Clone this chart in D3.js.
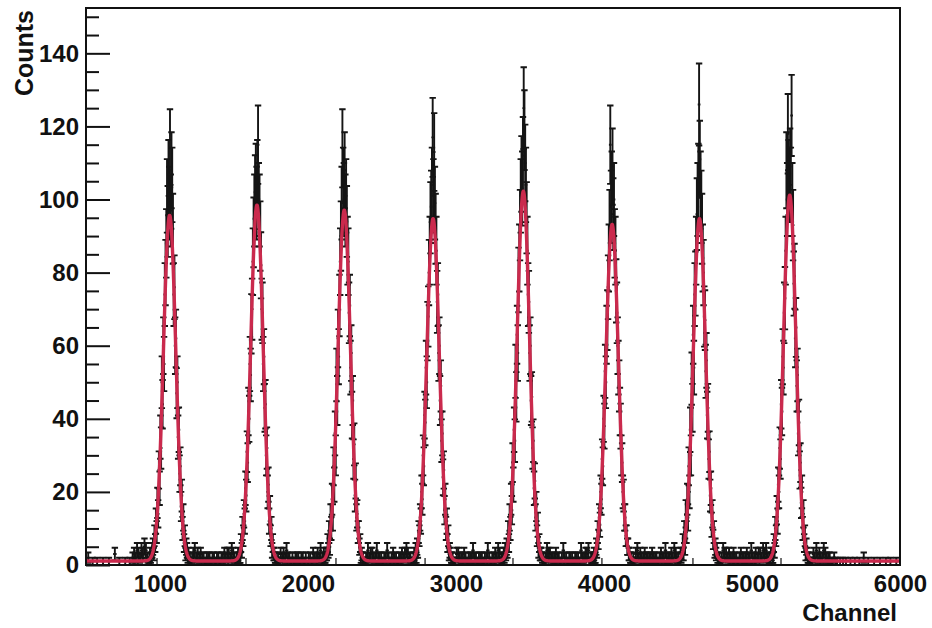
<!DOCTYPE html>
<html>
<head>
<meta charset="utf-8">
<script src="https://cdn.jsdelivr.net/npm/d3@7"></script>
<style>
  body { margin: 0; background: #fff; }
  text { font-family: "Liberation Sans", Arial, Helvetica, sans-serif; font-weight: bold; fill: #111; }
</style>
</head>
<body>
<div id="chart"></div>
<script>
// background regions between the peaks: 10-channel bins
var gapBinWidth = 10;
var gapStarts = [500, 1220, 1810, 2400, 3000, 3610, 4210, 4800, 5410];
var gapCounts = [
  [0,2,0,0,1,0,0,1,0,0, 0,1,0,0,0,1,0,0,0,3, 0,0,1,0,0,0,1,0,0,1, 0,2,3,2,4,3,2,4,3,5,4],
  [3,4,2,3,2,3,2,2,1,2, 2,2,1,2,2,1,2,2,1,2, 2,3,2,3,3,2,4,3],
  [3,2,3,2,4,2,2,1,2,1, 2,2,2,1,2,2,1,2,0,2, 2,1,3,2,2,3,2,4],
  [4,2,3,3,2,2,4,2,2,2, 1,2,2,4,2,1,2,3,2,2, 1,2,2,3,2,3,4,3,2],
  [3,3,2,2,2,3,2,1,2,2, 2,4,2,2,1,2,2,2,1,2, 2,4,2,1,2,2,3,2,4,3],
  [4,3,3,2,2,2,3,2,2,1, 2,4,2,2,1,2,2,2,1,2, 2,2,1,4,2,2,3,3,4],
  [3,4,2,3,2,2,3,2,2,2, 2,3,2,2,2,1,2,3,2,2, 4,2,2,2,3,2,4,3],
  [4,3,3,2,3,2,2,3,2,2, 1,2,3,2,2,2,3,2,2,4, 2,2,3,2,3,3,2,4,3,4],
  [3,2,4,2,3,2,2,4,3,2, 2,2,1,1,2,1,1,0,1,0, 1,0,1,0,0,1,0,0,1,0,
   0,1,0,0,2,0,0,1,0,0, 0,1,0,0,0,1,0,0,0,1, 0,0,1,0,0,0,1,0,0]
];

// peak regions: 5-channel bins, 62 bins each
var peakBinWidth = 5;
var peakStarts = [910, 1500, 2090, 2690, 3300, 3900, 4490, 5100];
var peakCounts = [
  [1,2,0,1,3,2,1,4, 5,3,8,6,12,9,17,14,26,21,35,32,50,44,60,55,74,80,
   88,101,94,106,99,114,97,108,104,92,
   74,76,60,62,47,50,35,37,25,27,16,19,10,13,6,8,3,5, 4,2,3,1,2,1,1,2],
  [2,1,1,2,1,3,2,2, 2,6,4,10,8,14,12,21,19,31,28,42,40,55,52,66,70,83,
   91,97,102,105,99,106,115,100,97,90,
   82,70,69,55,57,43,44,30,32,20,22,12,15,8,10,4,6,3, 3,2,2,1,1,2,1,1],
  [1,2,1,3,2,2,3,3, 6,4,9,5,13,10,18,13,27,22,36,30,52,45,62,57,71,83,
   90,99,114,104,100,108,97,101,94,86,
   83,69,71,54,58,41,45,29,33,19,23,13,14,9,9,5,6,2, 3,2,2,1,1,1,2,1],
  [2,1,1,1,2,3,2,4, 2,5,4,9,8,13,12,20,18,30,27,41,39,54,50,64,68,80,
   86,95,98,104,117,101,113,99,92,86,
   72,74,58,60,45,49,34,36,24,26,15,18,10,12,6,8,3,4, 3,2,2,2,1,1,1,1],
  [1,2,2,1,3,2,4,3, 5,4,9,6,13,10,18,15,28,22,37,34,53,46,63,58,78,84,
   93,101,107,103,112,125,119,110,104,95,
   86,74,72,58,60,45,46,32,34,21,23,13,16,8,11,4,6,3, 3,3,2,1,2,1,1,2],
  [1,1,2,1,2,2,3,2, 2,5,4,9,7,13,11,20,18,29,27,40,38,53,50,63,67,76,
   84,93,115,98,103,109,96,100,88,86,
   75,69,60,54,49,42,38,30,28,20,19,13,13,8,8,5,5,3, 3,2,2,1,1,2,1,1],
  [2,1,2,1,1,3,2,3, 6,3,9,5,14,9,18,13,27,20,37,30,51,43,63,54,74,77,
   86,96,100,105,126,111,103,98,92,84,
   80,68,67,53,56,41,43,29,31,19,21,11,14,7,9,4,5,3, 4,2,1,2,1,1,2,1],
  [1,2,1,2,2,3,3,2, 2,6,4,10,8,15,12,22,20,32,29,44,42,57,54,69,73,86,
   108,100,118,106,104,109,104,123,100,93,
   77,79,62,65,49,52,36,39,26,28,17,20,10,14,6,8,3,5, 3,2,2,2,1,1,1,1]
];

// gaussian fit parameters
var fitCentroids = [1065, 1655, 2245, 2845, 3455, 4055, 4645, 5255];
var fitAmplitudes = [94.6, 97.4, 96, 93.7, 101.2, 92.1, 93.7, 100.1];
var fitSigmas = [42, 42, 42, 42, 42, 42, 42, 42];
var fitBackground = 1.1;

// small marks along the bottom axis
var markerChannels = [980, 1581, 2189, 2791, 3385, 3986, 4601, 5196];

var xTicks = [1000, 2000, 3000, 4000, 5000, 6000];
var yMajorTicks = [0, 20, 40, 60, 80, 100, 120, 140];
var xMin = 500, xMax = 6000, yMax = 152.4;

var margin = {top: 8, right: 32, bottom: 63, left: 86},
    width = 932 - margin.left - margin.right,
    height = 628 - margin.top - margin.bottom;

var svg = d3.select("#chart")
  .append("svg")
    .attr("width", width + margin.left + margin.right)
    .attr("height", height + margin.top + margin.bottom)
  .append("g")
    .attr("transform", "translate(" + margin.left + "," + margin.top + ")");

var x = d3.scaleLinear().domain([xMin, xMax]).range([0, width]);
var y = d3.scaleLinear().domain([0, yMax]).range([height, 0]);

// collect all bins of the histogram
var bins = [];
gapCounts.forEach(function(arr, g) {
  arr.forEach(function(n, i) { bins.push({lo: gapStarts[g] + i * gapBinWidth, w: gapBinWidth, n: n}); });
});
peakCounts.forEach(function(arr, p) {
  arr.forEach(function(n, i) { bins.push({lo: peakStarts[p] + i * peakBinWidth, w: peakBinWidth, n: n}); });
});
bins = bins.filter(function(d) { return d.n > 0; });

// error bars with end caps
var capW = 3.2;
svg.append("g")
    .attr("stroke", "#151515")
    .attr("stroke-width", 1.9)
    .attr("fill", "none")
  .selectAll("path")
  .data(bins)
  .enter()
  .append("path")
    .attr("d", function(d) {
      var cx = x(d.lo + d.w / 2), e = Math.sqrt(d.n);
      var y0 = y(Math.max(0, d.n - e)), y1 = y(d.n + e), yc = y(d.n);
      return "M" + cx + "," + y0 + "V" + y1 +
        "M" + (cx - capW) + "," + y0 + "H" + (cx + capW) +
        "M" + (cx - capW) + "," + y1 + "H" + (cx + capW) +
        "M" + (x(d.lo) - 1) + "," + yc + "H" + (x(d.lo + d.w) + 1);
    });

// fit curve
function fitValue(ch) {
  var v = fitBackground;
  fitCentroids.forEach(function(c, i) {
    var s = fitSigmas[i];
    v += fitAmplitudes[i] * Math.exp(-(ch - c) * (ch - c) / (2 * s * s));
  });
  return v;
}

svg.append("path")
  .datum(d3.range(xMin, xMax + 1, 2))
  .attr("fill", "none")
  .attr("stroke", "#ca2a4d")
  .attr("stroke-width", 3.4)
  .attr("stroke-linejoin", "round")
  .attr("d", d3.line()
    .x(function(d) { return x(d); })
    .y(function(d) { return y(fitValue(d)); })
  );

// small marks on the bottom axis
svg.append("g")
  .selectAll("line")
  .data(markerChannels)
  .enter()
  .append("line")
    .attr("x1", function(d) { return x(d); })
    .attr("x2", function(d) { return x(d); })
    .attr("y1", height)
    .attr("y2", height - 7)
    .attr("stroke", "#111")
    .attr("stroke-width", 1.2);

// Y axis: major and minor ticks pointing inward
var yMinorTicks = d3.range(0, yMax, 5).filter(function(v) { return v % 20 !== 0; });

var yAxis = svg.append("g")
  .call(d3.axisLeft(y).tickValues(yMajorTicks).tickSizeInner(-24).tickSizeOuter(0).tickPadding(7));
yAxis.select(".domain").remove();
yAxis.selectAll("line").attr("stroke", "#111").attr("stroke-width", 2);
yAxis.selectAll("text").attr("font-size", 24).style("font-family", null);

var yMinor = svg.append("g")
  .call(d3.axisLeft(y).tickValues(yMinorTicks).tickSizeInner(-13).tickSizeOuter(0).tickFormat(""));
yMinor.select(".domain").remove();
yMinor.selectAll("line").attr("stroke", "#111").attr("stroke-width", 2);

// X axis labels
var xAxis = svg.append("g")
  .attr("transform", "translate(0," + height + ")")
  .call(d3.axisBottom(x).tickValues(xTicks).tickSize(0).tickPadding(10).tickFormat(d3.format("d")));
xAxis.select(".domain").remove();
xAxis.selectAll("text").attr("font-size", 24).style("font-family", null);

// frame
svg.append("rect")
  .attr("x", 0).attr("y", 0)
  .attr("width", width).attr("height", height)
  .attr("fill", "none")
  .attr("stroke", "#111")
  .attr("stroke-width", 2);

// axis titles
svg.append("text")
  .attr("transform", "translate(" + (33 - margin.left) + "," + (10 - margin.top) + ") rotate(-90)")
  .attr("text-anchor", "end")
  .attr("font-size", 25)
  .text("Counts");

svg.append("text")
  .attr("x", 897 - margin.left)
  .attr("y", 621 - margin.top)
  .attr("text-anchor", "end")
  .attr("font-size", 24)
  .text("Channel");
</script>
</body>
</html>
